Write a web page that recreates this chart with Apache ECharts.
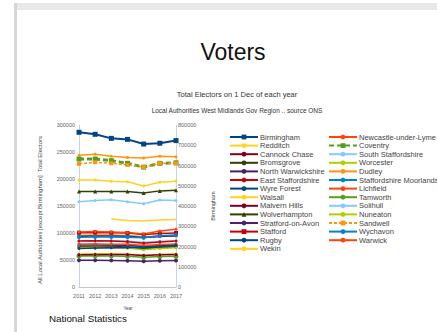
<!DOCTYPE html>
<html><head><meta charset="utf-8">
<script src="https://cdn.jsdelivr.net/npm/echarts@6/dist/echarts.min.js"></script>
<style>html,body{margin:0;padding:0;background:#fff}#c{width:437px;height:332px}</style>
</head><body><div id="c"></div>
<script>
const years = ['2011', '2012', '2013', '2014', '2015', '2016', '2017'];
const leftTicks = [0, 50000, 100000, 150000, 200000, 250000, 300000];
const rightTicks = [0, 100000, 200000, 300000, 400000, 500000, 600000, 700000, 800000];

const birmingham = [764000, 754000, 734000, 729000, 706000, 710000, 723000];
const newcastle = [95500, 96000, 95800, 95000, 92000, 94000, 95000];
const redditch = [61000, 61500, 61500, 61000, 59000, 60500, 61000];
const coventry = [237000, 237000, 234000, 229000, 222000, 229000, 230000];
const cannock = [74500, 75000, 74800, 74000, 72500, 73500, 74000];
const southStaffs = [85500, 85800, 85500, 85000, 83000, 84500, 85000];
const bromsgrove = [72500, 73000, 73000, 72500, 71000, 73000, 74000];
const worcester = [73000, 73500, 73000, 72000, 69000, 71500, 72500];
const northWarks = [49500, 49500, 49300, 48800, 47500, 48500, 49000];
const dudley = [244000, 246000, 242000, 240000, 239000, 242000, 241000];
const eastStaffs = [85000, 85500, 85000, 84000, 81000, 83500, 85000];
const staffsMoorlands = [77500, 77800, 77500, 77000, 75000, 76500, 77000];
const wyreForest = [78500, 78500, 78000, 77500, 75500, 76500, 77000];
const lichfield = [79000, 79500, 79300, 79000, 77000, 78500, 79500];
const walsall = [198000, 198000, 196000, 195000, 187000, 194000, 196000];
const tamworth = [57500, 57800, 57500, 57000, 55000, 56500, 57000];
const malvern = [59500, 60000, 60000, 60000, 58500, 59500, 60000];
const solihull = [158000, 160000, 161500, 158000, 154000, 161000, 160000];
const wolverhampton = [177000, 177000, 177000, 177000, 174000, 178000, 179000];
const nuneaton = [95000, 95500, 95500, 95000, 93000, 94500, 95500];
const stratford = [94000, 94500, 94500, 94000, 91500, 93500, 95000];
const sandwell = [228000, 231000, 229000, 226000, 222000, 229000, 229000];
const stafford = [100500, 101000, 100500, 100000, 97000, 99000, 100000];
const wychavon = [92000, 92500, 92500, 92000, 91000, 95000, 96500];
const rugby = [71500, 72000, 72500, 73000, 73000, 75000, 77500];
const warwick = [102000, 103000, 102000, 101000, 98000, 103500, 107000];
const wekin = [null, null, 126000, 123000, 122000, 124000, 125000];

const legendLeft = ['Birmingham', 'Redditch', 'Cannock Chase', 'Bromsgrove', 'North Warwickshire', 'East Staffordshire', 'Wyre Forest', 'Walsall', 'Malvern Hills', 'Wolverhampton', 'Stratford-on-Avon', 'Stafford', 'Rugby', 'Wekin'];
const legendRight = ['Newcastle-under-Lyme', 'Coventry', 'South Staffordshire', 'Worcester', 'Dudley', 'Staffordshire Moorlands', 'Lichfield', 'Tamworth', 'Solihull', 'Nuneaton', 'Sandwell', 'Wychavon', 'Warwick'];

// name, data, axis
const seriesData = [
  ['Birmingham', birmingham, 1],
  ['Newcastle-under-Lyme', newcastle, 0],
  ['Redditch', redditch, 0],
  ['Coventry', coventry, 0],
  ['Cannock Chase', cannock, 0],
  ['South Staffordshire', southStaffs, 0],
  ['Bromsgrove', bromsgrove, 0],
  ['Worcester', worcester, 0],
  ['North Warwickshire', northWarks, 0],
  ['Dudley', dudley, 0],
  ['East Staffordshire', eastStaffs, 0],
  ['Staffordshire Moorlands', staffsMoorlands, 0],
  ['Wyre Forest', wyreForest, 0],
  ['Lichfield', lichfield, 0],
  ['Walsall', walsall, 0],
  ['Tamworth', tamworth, 0],
  ['Malvern Hills', malvern, 0],
  ['Solihull', solihull, 0],
  ['Wolverhampton', wolverhampton, 0],
  ['Nuneaton', nuneaton, 0],
  ['Stratford-on-Avon', stratford, 0],
  ['Sandwell', sandwell, 0],
  ['Stafford', stafford, 0],
  ['Wychavon', wychavon, 0],
  ['Rugby', rugby, 0],
  ['Warwick', warwick, 0],
  ['Wekin', wekin, 0]
];

const palette = ['#004586', '#ff420e', '#ffd320', '#579d1c', '#7e0021', '#83caff', '#314004', '#aecf00', '#4b1f6f', '#ff950e', '#c5000b', '#0084d1'];
const styles = {
  'Birmingham': {symbol: 'rect', size: 5, width: 2},
  'Coventry': {symbol: 'rect', size: 5, width: 3, dash: [5, 3]},
  'Sandwell': {symbol: 'rect', size: 4, width: 1.5, dash: [3, 2]},
  'Stafford': {symbol: 'rect', size: 4, width: 1.5},
  'Tamworth': {symbol: 'circle', size: 5, width: 1.5},
  'Wychavon': {symbol: 'circle', size: 4, width: 1.5},
  'North Warwickshire': {symbol: 'circle', size: 4, width: 1.5},
  'Wolverhampton': {symbol: 'triangle', size: 4, width: 1.5},
  'Wekin': {symbol: 'none', size: 0, width: 1.5}
};

const series = seriesData.map(function (d, i) {
  const st = styles[d[0]] || {symbol: 'circle', size: 3, width: 1.5};
  const c = palette[i % palette.length];
  return {
    name: d[0], type: 'line', data: d[1], yAxisIndex: d[2],
    symbol: st.symbol, symbolSize: st.size, showSymbol: st.symbol !== 'none',
    connectNulls: false, animation: false,
    lineStyle: {color: c, width: st.width, type: st.dash || 'solid'},
    itemStyle: {color: c}
  };
});

const chart = echarts.init(document.getElementById('c'), null, {renderer: 'svg'});
const plain = function (v) { return String(v); };
const axisLabel = {fontSize: 5.5, color: '#666', fontFamily: 'Liberation Sans', formatter: plain};
const legendCommon = {
  orient: 'vertical', itemWidth: 28, itemHeight: 6, itemGap: 0.6, padding: 0,
  textStyle: {fontSize: 7.5, lineHeight: 7, color: '#444', fontFamily: 'Liberation Sans', padding: [0, 0, 0, -3]},
  selectedMode: false
};
chart.setOption({
  backgroundColor: '#fff',
  animation: false,
  grid: {left: 79, right: 261, top: 125, bottom: 45},
  xAxis: {
    type: 'category', data: years, boundaryGap: false,
    axisLine: {lineStyle: {color: '#c8c8c8'}}, axisTick: {show: false},
    axisLabel: {fontSize: 5.5, color: '#666', fontFamily: 'Liberation Sans', margin: 6},
    splitLine: {show: false}
  },
  yAxis: [
    {type: 'value', min: leftTicks[0], max: leftTicks[leftTicks.length - 1], interval: 50000,
     axisLine: {show: true, lineStyle: {color: '#c8d4e4'}}, axisTick: {show: false},
     axisLabel: Object.assign({margin: 4}, axisLabel), splitLine: {show: false}},
    {type: 'value', min: rightTicks[0], max: rightTicks[rightTicks.length - 1], interval: 100000,
     axisLine: {show: true, lineStyle: {color: '#c8d4e4'}}, axisTick: {show: false},
     axisLabel: Object.assign({margin: 2}, axisLabel), splitLine: {show: false}}
  ],
  legend: [
    Object.assign({left: 229, top: 133, data: legendLeft}, legendCommon),
    Object.assign({left: 328, top: 133, data: legendRight}, legendCommon)
  ],
  graphic: [
    {type: 'rect', shape: {x: 14, y: 3, width: 423, height: 7}, style: {fill: '#e8e8e8'}, silent: true},
    {type: 'rect', shape: {x: 14, y: 3, width: 3, height: 329}, style: {fill: '#d6d6d6'}, silent: true},
    {type: 'text', x: 233, y: 52, style: {text: 'Voters', fontSize: 23, fontFamily: 'Liberation Sans', fill: '#111', textAlign: 'center', textVerticalAlign: 'middle'}},
    {type: 'text', x: 237, y: 94, style: {text: 'Total Electors on 1 Dec of each year', fontSize: 7.5, fontFamily: 'Liberation Sans', fill: '#333', textAlign: 'center', textVerticalAlign: 'middle'}},
    {type: 'text', x: 237, y: 110, style: {text: 'Local Authorities West Midlands Gov Region .. source ONS', fontSize: 6.5, fontFamily: 'Liberation Sans', fill: '#333', textAlign: 'center', textVerticalAlign: 'middle'}},
    {type: 'text', x: 40, y: 210, rotation: Math.PI / 2, style: {text: 'All Local Authorities [except Birmingham]  Total Electors', fontSize: 6, fontFamily: 'Liberation Sans', fill: '#444', textAlign: 'center', textVerticalAlign: 'middle'}},
    {type: 'text', x: 213, y: 206, rotation: Math.PI / 2, style: {text: 'Birmingham', fontSize: 5.5, fontFamily: 'Liberation Sans', fill: '#444', textAlign: 'center', textVerticalAlign: 'middle'}},
    {type: 'text', x: 128, y: 308, style: {text: 'Year', fontSize: 4.5, fontFamily: 'Liberation Sans', fill: '#444', textAlign: 'center', textVerticalAlign: 'middle'}},
    {type: 'text', x: 49, y: 318, style: {text: 'National Statistics', fontSize: 9.8, fontFamily: 'Liberation Sans', fill: '#111', textAlign: 'left', textVerticalAlign: 'middle'}}
  ],
  series: series
});
</script>
</body></html>
